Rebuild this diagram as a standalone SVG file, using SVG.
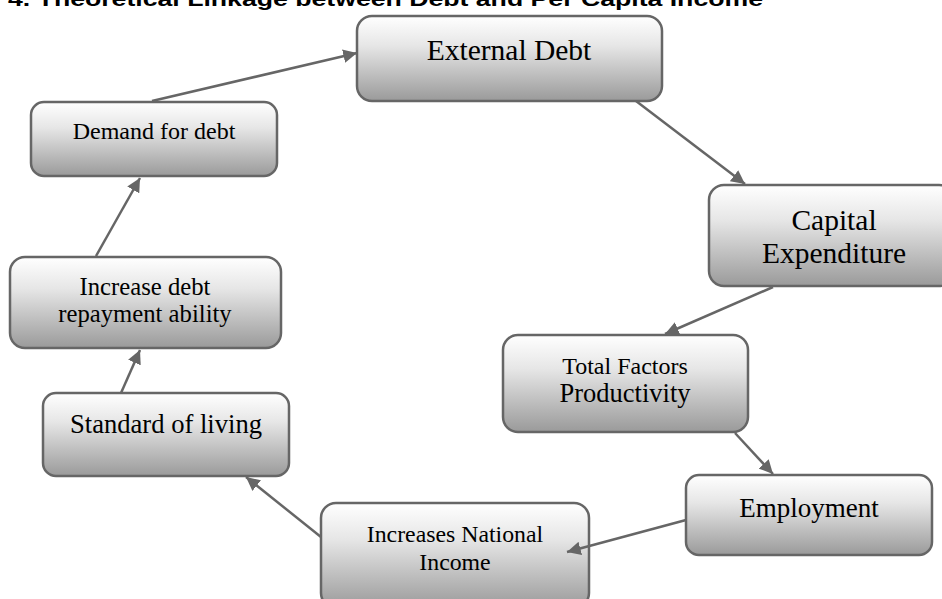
<svg xmlns="http://www.w3.org/2000/svg" width="942" height="599" viewBox="0 0 942 599">
<defs>
<linearGradient id="g" x1="0" y1="0" x2="0" y2="1">
<stop offset="0" stop-color="#ffffff"/>
<stop offset="0.35" stop-color="#e6e6e6"/>
<stop offset="1" stop-color="#9a9a9a"/>
</linearGradient>
<marker id="ah" viewBox="0 0 10 10" refX="10" refY="5" markerWidth="5.5" markerHeight="5.5" orient="auto" markerUnits="strokeWidth">
<path d="M0,0 L10,5 L0,10 z" fill="#666"/>
</marker>
</defs>
<style>
.box{fill:url(#g);stroke:#666;stroke-width:2.5}
.t{font-family:"Liberation Serif","Times New Roman",serif;fill:#000;text-anchor:middle}
.c{stroke:#666;stroke-width:2.5;fill:none;marker-end:url(#ah)}
</style>
<rect width="942" height="599" fill="#fff"/>
<text x="8" y="6" font-family="Liberation Sans, Arial, sans-serif" font-weight="bold" font-size="21" textLength="755" lengthAdjust="spacingAndGlyphs">4. Theoretical Linkage between Debt and Per Capita Income</text>
<g id="external-debt">
<rect class="box" x="357" y="16" width="305" height="85" rx="15"/>
<text class="t" x="509" y="60" font-size="29.5">External Debt</text>
</g>
<g id="capital-expenditure">
<rect class="box" x="709" y="185" width="245" height="101" rx="15"/>
<text class="t" x="834" y="230" font-size="29.5">Capital</text>
<text class="t" x="834" y="263" font-size="29.5">Expenditure</text>
</g>
<g id="tfp">
<rect class="box" x="503" y="335" width="245" height="97" rx="15"/>
<text class="t" x="625" y="374" font-size="24">Total Factors</text>
<text class="t" x="625" y="402" font-size="26.5">Productivity</text>
</g>
<g id="employment">
<rect class="box" x="686" y="475" width="246" height="80" rx="13"/>
<text class="t" x="809" y="517" font-size="27">Employment</text>
</g>
<g id="national-income">
<rect class="box" x="321" y="503" width="268" height="105" rx="15"/>
<text class="t" x="455" y="542" font-size="23.8">Increases National</text>
<text class="t" x="455" y="570" font-size="23.8">Income</text>
</g>
<g id="standard-of-living">
<rect class="box" x="43" y="393" width="246" height="83" rx="13"/>
<text class="t" x="166" y="433" font-size="26.6">Standard of living</text>
</g>
<g id="repayment-ability">
<rect class="box" x="10" y="257" width="271" height="91" rx="15"/>
<text class="t" x="145" y="295" font-size="24.7">Increase debt</text>
<text class="t" x="145" y="322" font-size="24.7">repayment ability</text>
</g>
<g id="demand-for-debt">
<rect class="box" x="31" y="102" width="246" height="74" rx="13"/>
<text class="t" x="154" y="139" font-size="24">Demand for debt</text>
</g>
<g id="connectors">
<line class="c" x1="152" y1="101" x2="357" y2="53"/>
<line class="c" x1="636" y1="101" x2="745" y2="184"/>
<line class="c" x1="773" y1="287" x2="665" y2="334"/>
<line class="c" x1="735" y1="433" x2="773" y2="474"/>
<line class="c" x1="686" y1="520" x2="567" y2="552"/>
<line class="c" x1="321" y1="537" x2="246" y2="477"/>
<line class="c" x1="121" y1="393" x2="140" y2="350"/>
<line class="c" x1="96" y1="256" x2="140" y2="178"/>
</g>
</svg>
